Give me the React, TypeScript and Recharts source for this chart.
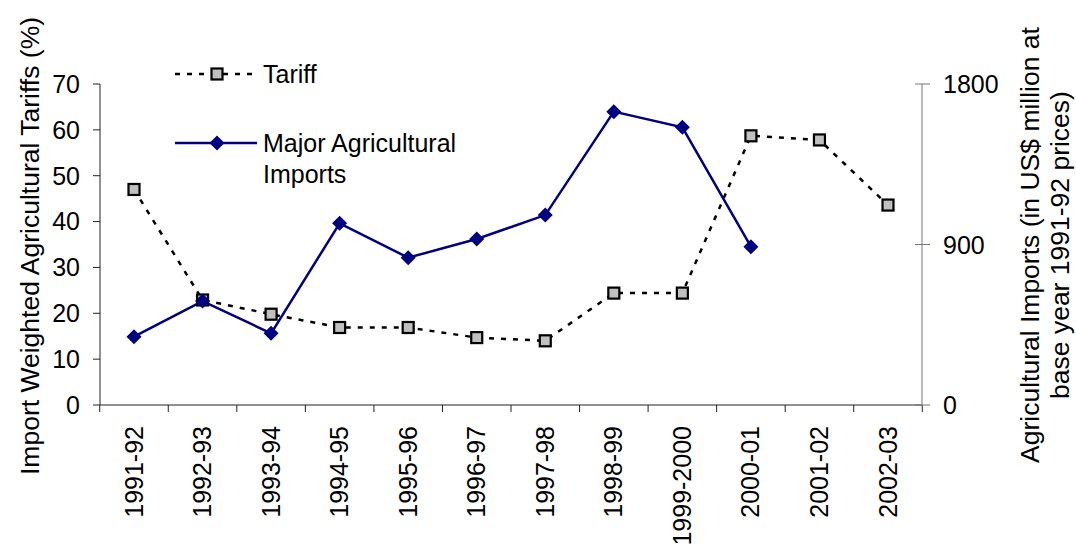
import { LineChart, Line, XAxis, YAxis, Legend } from 'recharts';

const years = [
  '1991-92', '1992-93', '1993-94', '1994-95', '1995-96', '1996-97',
  '1997-98', '1998-99', '1999-2000', '2000-01', '2001-02', '2002-03',
];
const tariff = [47.0, 22.9, 19.8, 16.9, 16.9, 14.7, 14.0, 24.4, 24.4, 58.7, 57.8, 43.6];
const imports: (number | null)[] = [383, 583, 402, 1019, 826, 931, 1065, 1645, 1557, 888, null, null];

const tariffTicks = [0, 10, 20, 30, 40, 50, 60, 70];
const importTicks = [0, 900, 1800];

const seriesNames = ['Tariff', 'Major Agricultural', 'Imports'];

const data = years.map((year, i) => ({ year, tariff: tariff[i], imports: imports[i] }));

const FONT = '"Liberation Sans", Arial, sans-serif';
const FS = 25;
const TITLE_FS = 26.5;
const NAVY = '#000080';
const HALF_STEP = (822 - 68) / 11 / 2;

const SquareDot = (props: any) => {
  const { cx, cy } = props;
  if (cx == null || cy == null) return <g />;
  return <rect x={cx - 5.5} y={cy - 5.5} width={11} height={11} fill="#c0c0c0" stroke="#000" strokeWidth={2.2} />;
};

const DiamondDot = (props: any) => {
  const { cx, cy } = props;
  if (cx == null || cy == null) return <g />;
  return <path d={`M${cx},${cy - 7.5} L${cx + 7.5},${cy} L${cx},${cy + 7.5} L${cx - 7.5},${cy} Z`} fill={NAVY} />;
};

const YearTick = (props: any) => {
  const { x, y, payload, index } = props;
  return (
    <g>
      {index === 0 && <line x1={x - HALF_STEP} x2={x - HALF_STEP} y1={y} y2={y + 7} stroke="#222" />}
      <line x1={x + HALF_STEP} x2={x + HALF_STEP} y1={y} y2={y + 7} stroke="#222" />
      <text
        x={x + 8.5}
        y={y + 21}
        transform={`rotate(-90 ${x + 8.5} ${y + 21})`}
        textAnchor="end"
        fontFamily={FONT}
        fontSize={FS}
        fill="#000"
      >
        {payload.value}
      </text>
    </g>
  );
};

const RightTick = (props: any) => {
  const { x, y, payload } = props;
  return (
    <g>
      <line x1={x - 28} x2={x - 13} y1={y} y2={y} stroke="#777" />
      <text x={x} y={y + 9} fontFamily={FONT} fontSize={FS} fill="#000">
        {payload.value}
      </text>
    </g>
  );
};

const LeftTitle = () => {
  const cx = 39;
  const cy = 246;
  return (
    <text x={cx} y={cy} transform={`rotate(-90 ${cx} ${cy})`} textAnchor="middle" fontFamily={FONT} fontSize={TITLE_FS} fill="#000">
      Import Weighted Agricultural Tariffs (%)
    </text>
  );
};

const RightTitle = () => {
  const cy = 245;
  return (
    <g fontFamily={FONT} fontSize={TITLE_FS} fill="#000" textAnchor="middle">
      <text x={1039} y={cy} transform={`rotate(-90 1039 ${cy})`}>Agricultural Imports (in US$ million at</text>
      <text x={1069} y={cy} transform={`rotate(-90 1069 ${cy})`}>base year 1991-92 prices)</text>
    </g>
  );
};

const LegendBox = () => (
  <svg width={340} height={140} style={{ display: 'block', overflow: 'visible' }}>
    <g fontFamily={FONT} fontSize={FS} fill="#000">
      <line x1={5} x2={87} y1={19} y2={19} stroke="#000" strokeWidth={2.5} strokeDasharray="5 7" />
      <SquareDot cx={47} cy={19} />
      <text x={93} y={28}>{seriesNames[0]}</text>
      <line x1={5} x2={87} y1={88} y2={88} stroke={NAVY} strokeWidth={2.5} />
      <DiamondDot cx={47} cy={88} />
      <text x={93} y={97}>{seriesNames[1]}</text>
      <text x={93} y={128}>{seriesNames[2]}</text>
    </g>
  </svg>
);

export default function App() {
  return (
    <div style={{ position: 'absolute', left: 0, top: 0, background: '#fff' }}>
      <LineChart width={1076} height={548} data={data} margin={{ top: 84, right: 0, bottom: 0, left: 0 }}>
        <XAxis
          dataKey="year"
          interval={0}
          padding={{ left: 34, right: 34 }}
          height={143}
          axisLine={{ stroke: '#222' }}
          tickLine={false}
          tickSize={0}
          tickMargin={0}
          tick={<YearTick />}
        />
        <YAxis
          yAxisId="left"
          width={100}
          domain={[0, 70]}
          ticks={tariffTicks}
          interval={0}
          axisLine={{ stroke: '#222' }}
          tickLine={{ stroke: '#222' }}
          tickSize={7}
          tickMargin={13}
          tick={{ fontFamily: FONT, fontSize: FS, fill: '#000' }}
          label={<LeftTitle />}
        />
        <YAxis
          yAxisId="right"
          orientation="right"
          width={154}
          domain={[0, 1800]}
          ticks={importTicks}
          interval={0}
          axisLine={{ stroke: '#777' }}
          tickLine={false}
          tickSize={8}
          tickMargin={13}
          tick={<RightTick />}
          label={<RightTitle />}
        />
        <Legend
          layout="vertical"
          align="center"
          verticalAlign="middle"
          content={() => <LegendBox />}
          wrapperStyle={{ position: 'absolute', top: 55, left: 170, width: 340, height: 140 }}
        />
        <Line
          yAxisId="left"
          dataKey="tariff"
          stroke="#000"
          strokeWidth={2.5}
          strokeDasharray="5 7"
          dot={<SquareDot />}
          activeDot={false}
          isAnimationActive={false}
        />
        <Line
          yAxisId="right"
          dataKey="imports"
          stroke={NAVY}
          strokeWidth={2.5}
          dot={<DiamondDot />}
          activeDot={false}
          connectNulls={false}
          isAnimationActive={false}
        />
      </LineChart>
    </div>
  );
}
